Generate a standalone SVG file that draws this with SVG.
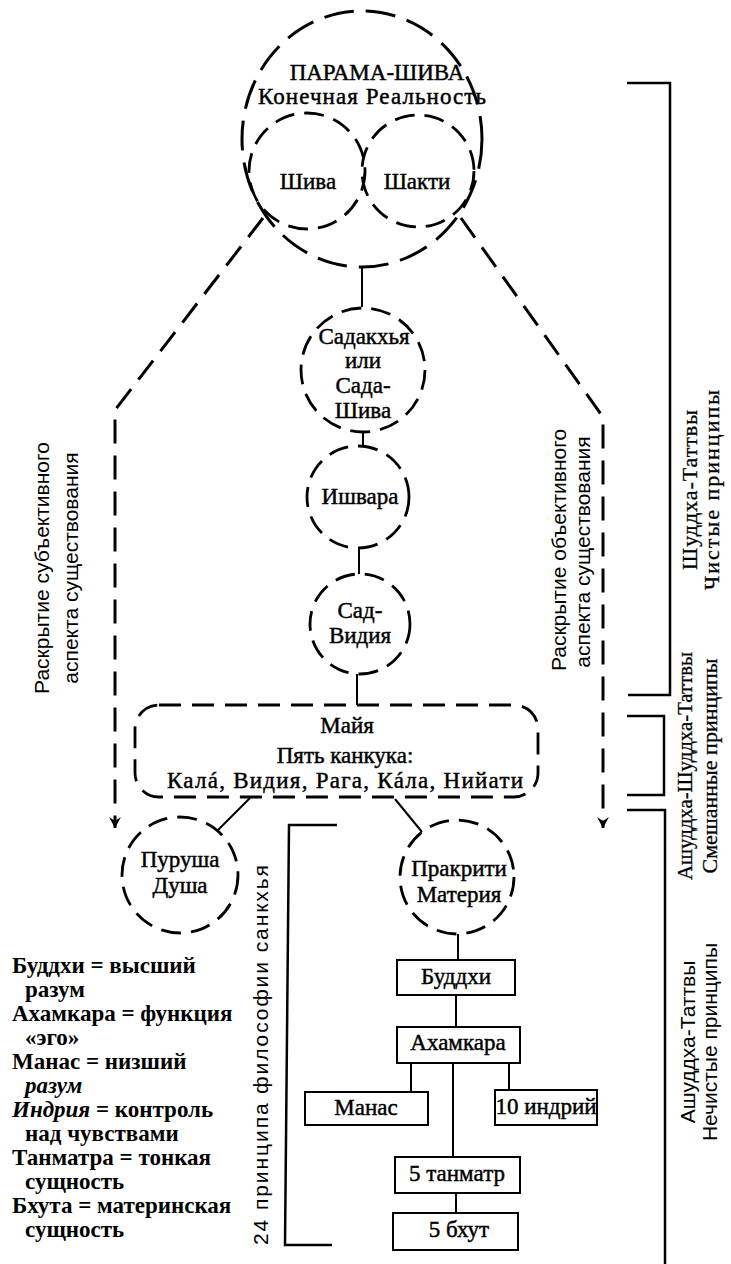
<svg xmlns="http://www.w3.org/2000/svg" width="731" height="1264" viewBox="0 0 731 1264">
<style>
.dc{fill:none;stroke:#000;stroke-width:2.8;stroke-dasharray:20 10}
.big{fill:none;stroke:#000;stroke-width:3;stroke-dasharray:30 12}
.da{fill:none;stroke:#000;stroke-width:3;stroke-dasharray:24 12}
.ln{fill:none;stroke:#000;stroke-width:2}
.bx{fill:#fff;stroke:#000;stroke-width:2}
.br{fill:none;stroke:#000;stroke-width:2.5}
.t{font-family:"Liberation Serif","Times New Roman",serif;font-size:23px;fill:#000;stroke:#000;stroke-width:0.45;text-anchor:middle}
.tl{font-family:"Liberation Serif","Times New Roman",serif;font-size:23px;font-weight:bold;fill:#000}
.s{font-family:"Liberation Sans",Arial,sans-serif;font-size:21px;fill:#000;text-anchor:middle}
.sr{font-family:"Liberation Serif","Times New Roman",serif;font-size:22px;fill:#000;stroke:#000;stroke-width:0.3;text-anchor:middle}
</style>
<defs>
<marker id="ah" markerUnits="userSpaceOnUse" markerWidth="12" markerHeight="12" refX="11" refY="6" orient="auto">
<path d="M0,0 L11,6 L0,12 L4,6 Z" fill="#000"/>
</marker>
</defs>
<rect width="731" height="1264" fill="#fff"/>

<g id="connectors">
<path class="da" d="M263 218 L115 410 L115 828" marker-end="url(#ah)"/>
<path class="da" d="M461 218 L603 417 L603 828" marker-end="url(#ah)"/>
<line class="ln" x1="362" y1="267" x2="362" y2="307"/>
<line class="ln" x1="363" y1="432" x2="363" y2="447"/>
<line class="ln" x1="359" y1="547" x2="359" y2="574"/>
<line class="ln" x1="357" y1="674" x2="357" y2="705"/>
<line class="ln" x1="250" y1="798" x2="218" y2="830"/>
<line class="ln" x1="395" y1="799" x2="422" y2="832"/>
<line class="ln" x1="458" y1="934" x2="458" y2="960"/>
<line class="ln" x1="456" y1="995" x2="456" y2="1027"/>
<line class="ln" x1="411" y1="1063" x2="411" y2="1092"/>
<line class="ln" x1="509" y1="1063" x2="509" y2="1090"/>
<line class="ln" x1="453" y1="1063" x2="453" y2="1157"/>
<line class="ln" x1="456" y1="1193" x2="456" y2="1213"/>
</g>

<g id="parama-shiva">
<ellipse class="big" cx="362" cy="139" rx="120" ry="128"/>
<text class="t" x="377" y="80">ПАРАМА-ШИВА</text>
<text class="t" x="372" y="104" textLength="228" lengthAdjust="spacing">Конечная Реальность</text>
</g>
<g id="shiva">
<circle class="dc" cx="307" cy="171" r="58"/>
<text class="t" x="308" y="189">Шива</text>
</g>
<g id="shakti">
<circle class="dc" cx="418" cy="171" r="56"/>
<text class="t" x="417" y="189">Шакти</text>
</g>
<g id="sadakhya">
<circle class="dc" cx="363" cy="370" r="62"/>
<text class="t" x="364" y="344">Садакхья</text>
<text class="t" x="363" y="368">или</text>
<text class="t" x="363" y="393">Сада-</text>
<text class="t" x="363" y="418">Шива</text>
</g>
<g id="ishvara">
<circle class="dc" cx="358" cy="497" r="51"/>
<text class="t" x="360" y="504">Ишвара</text>
</g>
<g id="sad-vidiya">
<circle class="dc" cx="360" cy="624" r="50"/>
<text class="t" x="360" y="618">Сад-</text>
<text class="t" x="360" y="643">Видия</text>
</g>
<g id="maya">
<rect class="dc" x="135" y="705" width="403" height="92" rx="24" ry="24" style="stroke-dasharray:22 11"/>
<text class="t" x="347" y="733">Майя</text>
<text class="t" x="345" y="763">Пять канкука:</text>
<text class="t" x="345" y="788" textLength="356" lengthAdjust="spacing">Калá, Видия, Рага, Кáла, Нийати</text>
</g>
<g id="purusha">
<circle class="dc" cx="180" cy="875" r="58"/>
<text class="t" x="180" y="867">Пуруша</text>
<text class="t" x="180" y="893">Душа</text>
</g>
<g id="prakriti">
<circle class="dc" cx="457" cy="877" r="57"/>
<text class="t" x="459" y="876">Пракрити</text>
<text class="t" x="459" y="902">Материя</text>
</g>
<g id="buddhi">
<rect class="bx" x="397" y="960" width="118" height="35"/>
<text class="t" x="456" y="984">Буддхи</text>
</g>
<g id="ahamkara">
<rect class="bx" x="397" y="1027" width="123" height="36"/>
<text class="t" x="458" y="1050">Ахамкара</text>
</g>
<g id="manas">
<rect class="bx" x="305" y="1092" width="123" height="33"/>
<text class="t" x="366" y="1115">Манас</text>
</g>
<g id="indriy">
<rect class="bx" x="495" y="1090" width="102" height="35"/>
<text class="t" x="546" y="1114">10 индрий</text>
</g>
<g id="tanmatr">
<rect class="bx" x="395" y="1157" width="125" height="36"/>
<text class="t" x="457" y="1181">5 танматр</text>
</g>
<g id="bhut">
<rect class="bx" x="393" y="1213" width="125" height="37"/>
<text class="t" x="459" y="1237">5 бхут</text>
</g>

<g id="side-labels">
<text class="s" transform="translate(49,568) rotate(-90)">Раскрытие субъективного</text>
<text class="s" transform="translate(78,568) rotate(-90)">аспекта существования</text>
<text class="s" transform="translate(566,550) rotate(-90)">Раскрытие объективного</text>
<text class="s" transform="translate(590,552) rotate(-90)">аспекта существования</text>
<path class="br" d="M337 825 L289 825 L285 1245 L332 1245"/>
<text class="s" transform="translate(268,1055) rotate(-90)" textLength="380" lengthAdjust="spacing">24 принципа философии санкхья</text>
</g>

<g id="brackets">
<path class="br" d="M627 83 H670 V695 H628"/>
<path class="br" d="M627 716 H664 V795 H627"/>
<path class="br" d="M627 810 H665 V1264"/>
<text class="sr" transform="translate(697,490) rotate(-90)" textLength="160" lengthAdjust="spacing">Шуддха-Таттвы</text>
<text class="sr" transform="translate(719,490) rotate(-90)" textLength="200" lengthAdjust="spacing">Чистые принципы</text>
<text class="sr" transform="translate(692,766) rotate(-90)" textLength="228" lengthAdjust="spacingAndGlyphs">Ашуддха-Шуддха-Таттвы</text>
<text class="sr" transform="translate(717,766) rotate(-90)">Смешанные принципы</text>
<text class="s" transform="translate(695,1042) rotate(-90)">Ашуддха-Таттвы</text>
<text class="s" transform="translate(717,1042) rotate(-90)">Нечистые принципы</text>
</g>

<g id="legend">
<text class="tl" x="12" y="973">Буддхи = высший</text>
<text class="tl" x="25" y="997">разум</text>
<text class="tl" x="12" y="1021">Ахамкара = функция</text>
<text class="tl" x="25" y="1045">«эго»</text>
<text class="tl" x="12" y="1069">Манас = низший</text>
<text class="tl" x="25" y="1093" font-style="italic">разум</text>
<text class="tl" x="12" y="1117"><tspan font-style="italic">Индрия</tspan> = контроль</text>
<text class="tl" x="25" y="1141">над чувствами</text>
<text class="tl" x="12" y="1165">Танматра = тонкая</text>
<text class="tl" x="25" y="1189">сущность</text>
<text class="tl" x="12" y="1213">Бхута = материнская</text>
<text class="tl" x="25" y="1237">сущность</text>
</g>
</svg>
